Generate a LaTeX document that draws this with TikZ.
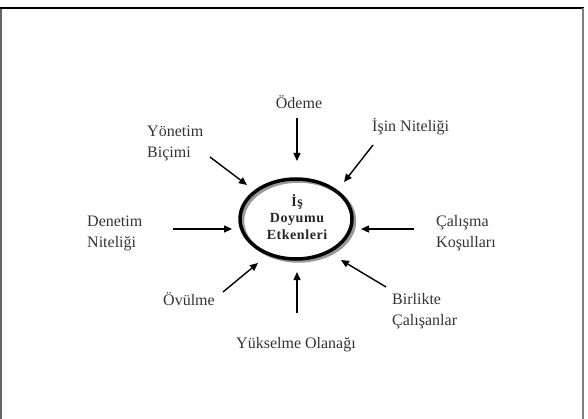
\documentclass[tikz,border=0pt]{standalone}
\usepackage{fontspec}
\setmainfont{Liberation Serif}
\usetikzlibrary{arrows.meta,shapes.geometric}
\begin{document}
\begin{tikzpicture}[x=1pt,y=-1pt,
  lbl/.style={font=\fontsize{16}{21}\selectfont, text=black!80, inner sep=0pt, align=left},
  arr/.style={line width=1.4pt, -{Triangle[length=8pt,width=7pt]}},
  ctext/.style={font=\fontsize{14}{16.5}\selectfont\bfseries\addfontfeature{LetterSpace=4}, text=black!85, inner sep=0pt, align=center}]
\useasboundingbox (0,0) rectangle (588,419);
% frame
\draw[black!60, line width=2pt] (1,419) -- (1,8);
\draw[black, line width=1.2pt] (0,8) -- (584,8);
\draw[black!50, line width=2.5pt] (583,8) -- (583,419);
% ellipse with shadow
\draw[black!40, line width=3.5pt] (298.5,221) ellipse [x radius=56, y radius=40];
\node[draw, ellipse, line width=3.5pt, minimum width=112pt, minimum height=80pt, inner sep=0pt] (e) at (296,219) {};
\node[ctext] (etext) at (297,217) {İş\\Doyumu\\Etkenleri};
% labels (base anchor = baseline of the last line)
\node[lbl, anchor=base] (odeme) at (299,109) {Ödeme};
\node[lbl, anchor=base west] (isin) at (372,132) {İşin Niteliği};
\node[lbl, anchor=base west] (yonetim) at (147,158) {Yönetim\\Biçimi};
\node[lbl, anchor=base west] (denetim) at (87,248) {Denetim\\Niteliği};
\node[lbl, anchor=base west] (calisma) at (436,248) {Çalışma\\Koşulları};
\node[lbl, anchor=base west] (ovulme) at (163,305) {Övülme};
\node[lbl, anchor=base west] (birlikte) at (392,325) {Birlikte\\Çalışanlar};
\node[lbl, anchor=base] (yukselme) at (296,348) {Yükselme Olanağı};
% arrow ends
\coordinate (t1) at (297,118); \coordinate (h1) at (297,161);
\coordinate (t2) at (373,145); \coordinate (h2) at (344,182);
\coordinate (t3) at (210,157); \coordinate (h3) at (247,185);
\coordinate (t4) at (173,229); \coordinate (h4) at (232,229);
\coordinate (t5) at (414,229); \coordinate (h5) at (361,229);
\coordinate (t6) at (223,292); \coordinate (h6) at (258,263);
\coordinate (t7) at (297,313); \coordinate (h7) at (297,272);
\coordinate (t8) at (386,287); \coordinate (h8) at (341,260);
\foreach \i in {1,...,8} {\draw[arr] (t\i) -- (h\i);}
\end{tikzpicture}
\end{document}
